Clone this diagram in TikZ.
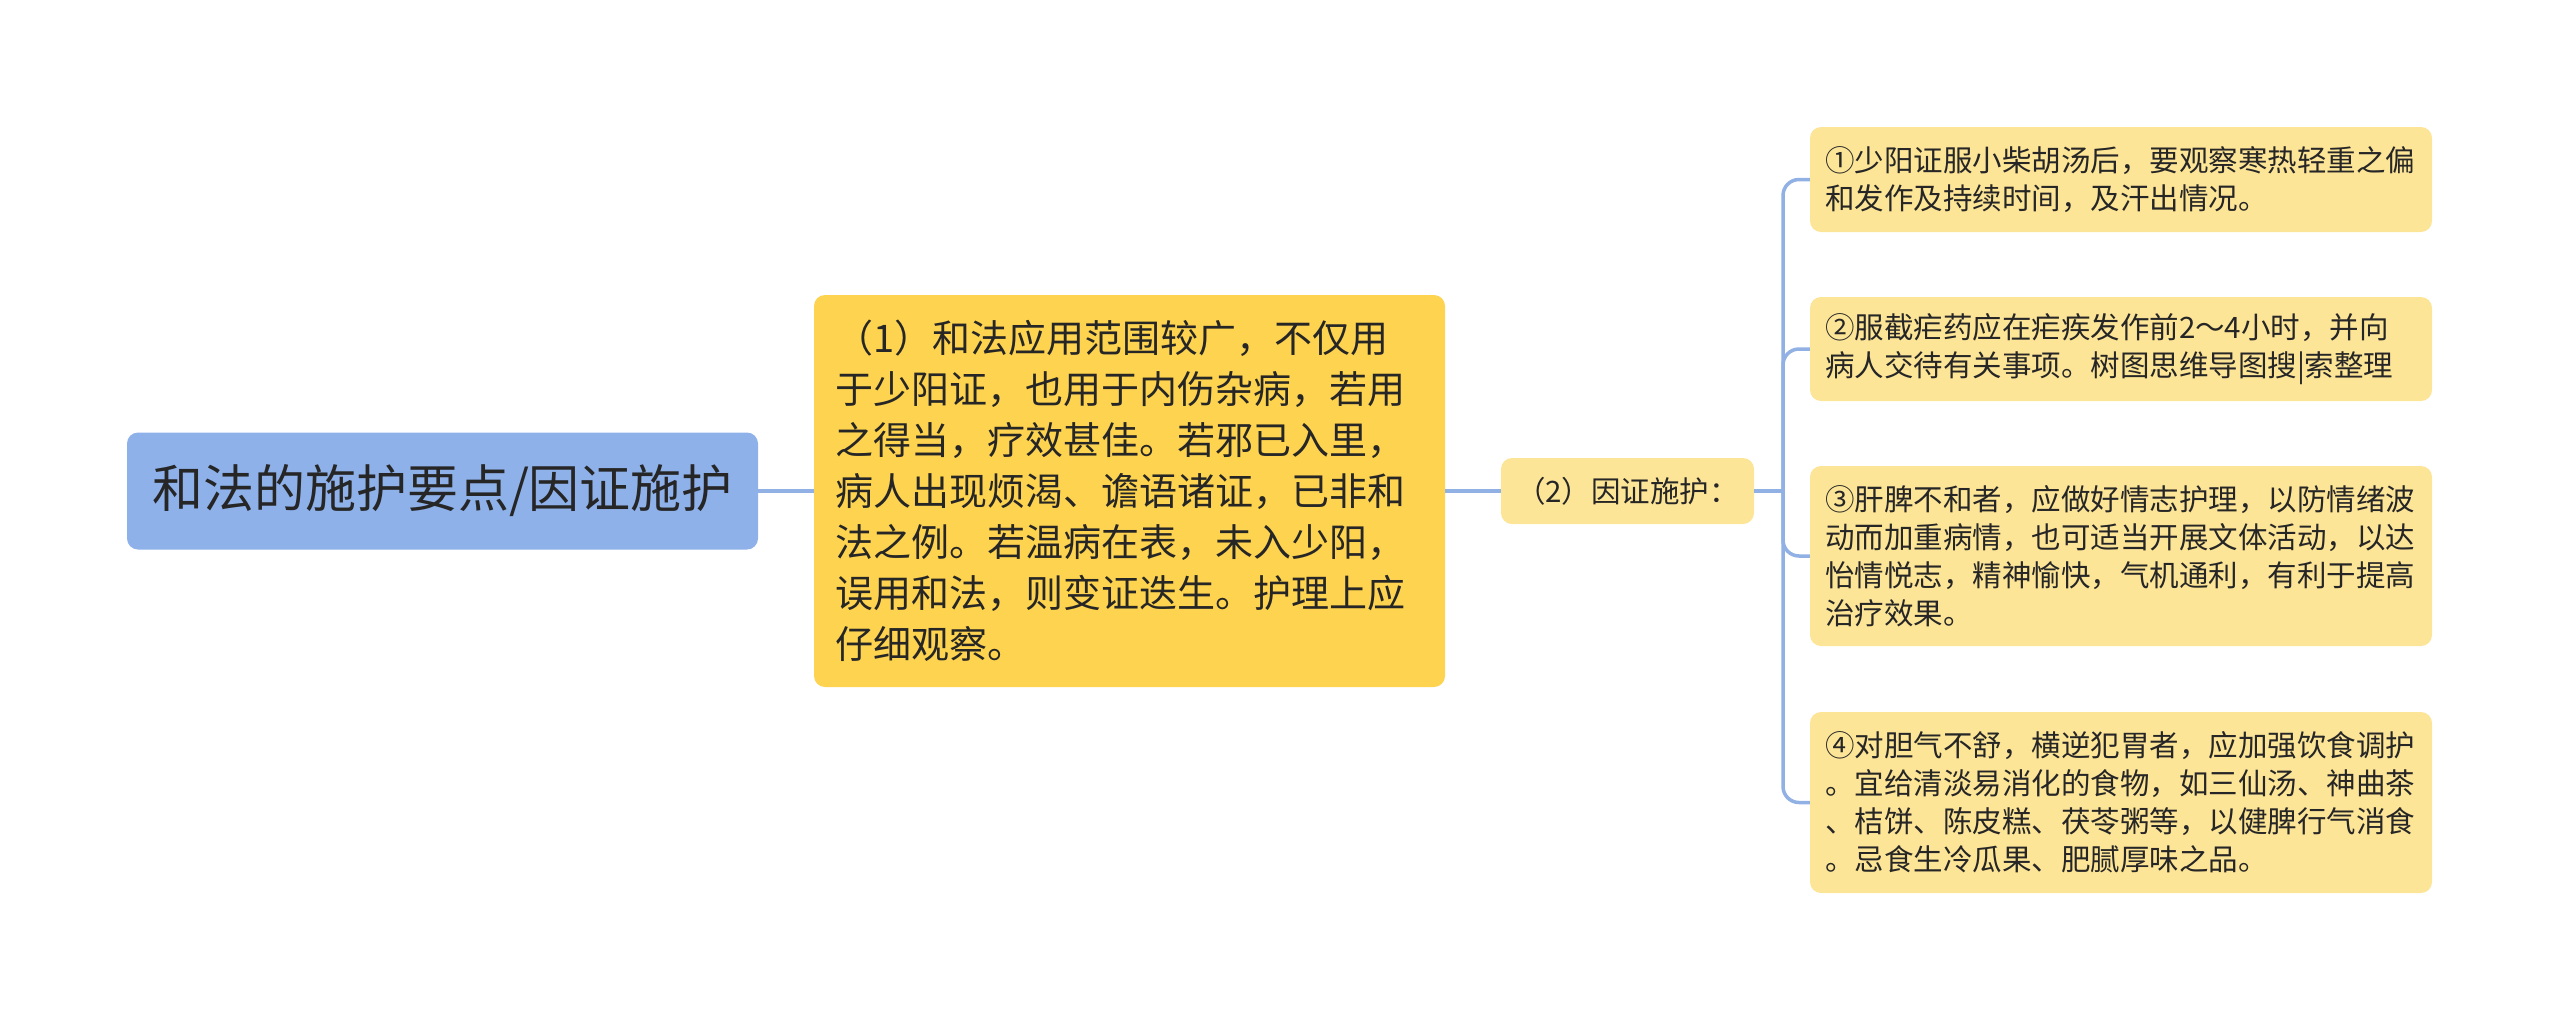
\documentclass[tikz,border=0pt]{standalone}
\usepackage{fontspec}
\setmainfont{Noto Sans CJK SC}
\definecolor{rootblue}{RGB}{142,177,234}
\definecolor{gold}{RGB}{253,211,79}
\definecolor{lightgold}{RGB}{253,229,152}
\definecolor{linkblue}{RGB}{145,176,228}
\definecolor{ink}{RGB}{38,38,38}
\tikzset{
  box/.style={rectangle, rounded corners=11pt, inner sep=0pt, text=ink, draw=none},
  rootbox/.style={box, fill=rootblue, minimum width=631pt, minimum height=117pt, font=\fontsize{51}{60}\selectfont},
  mainbox/.style={box, fill=gold, minimum width=631pt, minimum height=392pt, text width=588pt, align=left, font=\fontsize{38}{51}\selectfont},
  midbox/.style={box, fill=lightgold, minimum width=253pt, minimum height=66pt, font=\fontsize{29.5}{36}\selectfont},
  leafbox/.style={box, fill=lightgold, minimum width=622pt, text width=592pt, align=left, font=\fontsize{29.5}{38}\selectfont},
  link/.style={draw=linkblue, line width=3.5pt},
}
\begin{document}
\begin{tikzpicture}[x=1pt,y=-1pt]
\useasboundingbox (0,0) rectangle (2560,1021);
\node[rootbox] (root) at (442.5,491) {和法的施护要点/因证施护};
\node[mainbox] (n1) at (1129.5,491) {（1）和法应用范围较广，不仅用\\于少阳证，也用于内伤杂病，若用\\之得当，疗效甚佳。若邪已入里，\\病人出现烦渴、谵语诸证，已非和\\法之例。若温病在表，未入少阳，\\误用和法，则变证迭生。护理上应\\仔细观察。};
\node[midbox] (n2) at (1627.5,491) {（2）因证施护：};
\node[leafbox, minimum height=105pt] (c1) at (2121,179.5) {①少阳证服小柴胡汤后，要观察寒热轻重之偏\\和发作及持续时间，及汗出情况。};
\node[leafbox, minimum height=104pt] (c2) at (2121,349) {②服截疟药应在疟疾发作前2～4小时，并向\\病人交待有关事项。树图思维导图搜|索整理};
\node[leafbox, minimum height=180pt] (c3) at (2121,556) {③肝脾不和者，应做好情志护理，以防情绪波\\动而加重病情，也可适当开展文体活动，以达\\怡情悦志，精神愉快，气机通利，有利于提高\\治疗效果。};
\node[leafbox, minimum height=181pt] (c4) at (2121,802.5) {④对胆气不舒，横逆犯胃者，应加强饮食调护\\。宜给清淡易消化的食物，如三仙汤、神曲茶\\、桔饼、陈皮糕、茯苓粥等，以健脾行气消食\\。忌食生冷瓜果、肥腻厚味之品。};
\coordinate (tr) at (1783,491);
\draw[link] (root.east) -- (n1.west);
\draw[link] (n1.east) -- (n2.west);
\draw[link] (n2.east) -- (tr);
\foreach \c in {c1,c2,c3,c4}{
  \draw[link, rounded corners=16pt] (tr) |- (\c.west);
}
\end{tikzpicture}
\end{document}
